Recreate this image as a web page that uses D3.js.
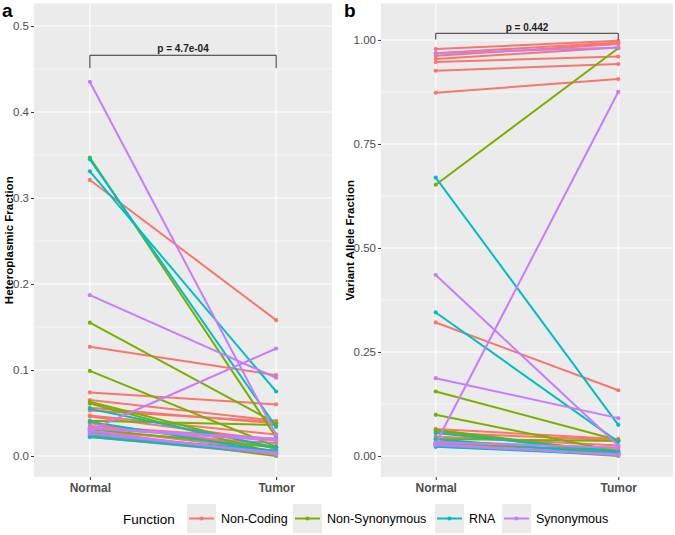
<!DOCTYPE html>
<html>
<head>
<meta charset="utf-8">
<script src="https://cdn.jsdelivr.net/npm/d3@7"></script>
<style>
  html, body { margin: 0; padding: 0; background: #ffffff; }
  svg { display: block; font-family: "Liberation Sans", Arial, sans-serif; }
</style>
</head>
<body>
<svg id="chart" width="675" height="535"></svg>
<script>
// ---------------- DATA ----------------
const functionNames = ["Non-Coding", "Non-Synonymous", "RNA", "Synonymous"];
const functionColors = ["#F8766D", "#7CAE00", "#00BFC4", "#C77CFF"];
const timepoints = ["Normal", "Tumor"];

// one entry per variant (same order in every array)
const variantFunction = [
  "Non-Coding","Non-Coding","Non-Coding","Non-Coding","Non-Coding","Non-Coding","Non-Coding","Non-Coding",
  "Non-Coding","Non-Coding","Non-Coding","Non-Coding","Non-Coding",
  "Non-Synonymous","Non-Synonymous","Non-Synonymous","Non-Synonymous","Non-Synonymous","Non-Synonymous",
  "Non-Synonymous","Non-Synonymous","Non-Synonymous",
  "RNA","RNA","RNA","RNA","RNA","RNA",
  "Synonymous","Synonymous","Synonymous","Synonymous","Synonymous","Synonymous","Synonymous"
];

// panel a: heteroplasmic fraction
const hetNormal = [
  0.321, 0.127, 0.074, 0.053, 0.046, 0.038, 0.032, 0.022,
  0.065, 0.047, 0.035, 0.028, 0.056,
  0.347, 0.155, 0.099, 0.063, 0.061, 0.041, 0.028, 0.023, 0.031,
  0.345, 0.331, 0.055, 0.022, 0.025, 0.040,
  0.435, 0.187, 0.030, 0.032, 0.033, 0.026, 0.029
];
const hetTumor = [
  0.158, 0.094, 0.060, 0.040, 0.018, 0.010, 0.006, 0.002,
  0.041, 0.025, 0.020, 0.015, 0.038,
  0.022, 0.038, 0.011, 0.008, 0.003, 0.036, 0.000, 0.005, 0.010,
  0.034, 0.075, 0.010, 0.003, 0.006, 0.005,
  0.025, 0.091, 0.125, 0.018, 0.020, 0.004, 0.002
];

// panel b: variant allele fraction
const vafNormal = [
  0.321, 0.873, 0.926, 0.947, 0.954, 0.962, 0.968, 0.978,
  0.065, 0.047, 0.035, 0.028, 0.056,
  0.652, 0.155, 0.099, 0.063, 0.061, 0.041, 0.028, 0.023, 0.031,
  0.345, 0.669, 0.055, 0.022, 0.025, 0.040,
  0.435, 0.187, 0.030, 0.968, 0.033, 0.026, 0.029
];
const vafTumor = [
  0.158, 0.906, 0.942, 0.960, 0.982, 0.990, 0.994, 0.998,
  0.041, 0.025, 0.020, 0.015, 0.038,
  0.980, 0.038, 0.011, 0.008, 0.003, 0.036, 0.000, 0.005, 0.010,
  0.034, 0.075, 0.010, 0.003, 0.006, 0.005,
  0.025, 0.091, 0.875, 0.982, 0.020, 0.004, 0.002
];

const ticksA = [0, 0.1, 0.2, 0.3, 0.4, 0.5];
const tickLabelsA = ["0.0", "0.1", "0.2", "0.3", "0.4", "0.5"];
const minorA = [0.05, 0.15, 0.25, 0.35, 0.45];
const ticksB = [0, 0.25, 0.5, 0.75, 1.0];
const tickLabelsB = ["0.00", "0.25", "0.50", "0.75", "1.00"];
const minorB = [0.125, 0.375, 0.625, 0.875];

const pLabelA = "p = 4.7e-04";
const pLabelB = "p = 0.442";

// ---------------- DRAW ----------------
const svg = d3.select("#chart");
const color = d3.scaleOrdinal().domain(functionNames).range(functionColors);

function panel(opts) {
  const { left, right, top, bottom, domain, ticks, labels, minor,
          normal, tumor, title, letter, letterX, titleX, pLabel, bracketY, bracketDrop, pY } = opts;
  const g = svg.append("g");
  const x = d3.scalePoint().domain(timepoints).range([left, right]).padding(0.3);
  const y = d3.scaleLinear().domain(domain).range([bottom, top]);

  g.append("rect").attr("x", left).attr("y", top)
    .attr("width", right - left).attr("height", bottom - top).attr("fill", "#EBEBEB");

  // grid
  g.selectAll(".minor").data(minor).enter().append("line")
    .attr("x1", left).attr("x2", right)
    .attr("y1", d => y(d)).attr("y2", d => y(d))
    .attr("stroke", "#ffffff").attr("stroke-width", 0.55);
  g.selectAll(".major").data(ticks).enter().append("line")
    .attr("x1", left).attr("x2", right)
    .attr("y1", d => y(d)).attr("y2", d => y(d))
    .attr("stroke", "#ffffff").attr("stroke-width", 1.1);
  g.selectAll(".vmajor").data(timepoints).enter().append("line")
    .attr("x1", d => x(d)).attr("x2", d => x(d))
    .attr("y1", top).attr("y2", bottom)
    .attr("stroke", "#ffffff").attr("stroke-width", 1.1);

  // axes
  const yAxis = d3.axisLeft(y).tickValues(ticks).tickFormat((d, i) => labels[i]).tickSize(3).tickPadding(2);
  const ya = g.append("g").attr("transform", `translate(${left},0)`).call(yAxis);
  ya.select(".domain").remove();
  ya.selectAll("line").attr("stroke", "#333333");
  ya.selectAll("text").attr("fill", "#4D4D4D").style("font-size", "11.5px")
    .style("font-family", "'Liberation Sans', Arial, sans-serif");

  const xAxis = d3.axisBottom(x).tickSize(3).tickPadding(3);
  const xa = g.append("g").attr("transform", `translate(0,${bottom})`).call(xAxis);
  xa.select(".domain").remove();
  xa.selectAll("line").attr("stroke", "#333333");
  xa.selectAll("text").attr("fill", "#4D4D4D").style("font-size", "12px").style("font-weight", "bold")
    .style("font-family", "'Liberation Sans', Arial, sans-serif");

  // lines
  const rows = normal.map((v, i) => ({ f: variantFunction[i], a: v, b: tumor[i] }));
  const lg = g.append("g");
  rows.forEach(r => {
    lg.append("line")
      .attr("x1", x("Normal")).attr("y1", y(r.a))
      .attr("x2", x("Tumor")).attr("y2", y(r.b))
      .attr("stroke", color(r.f)).attr("stroke-width", 2);
  });
  rows.forEach(r => {
    lg.append("circle").attr("cx", x("Normal")).attr("cy", y(r.a)).attr("r", 2.1).attr("fill", color(r.f));
    lg.append("circle").attr("cx", x("Tumor")).attr("cy", y(r.b)).attr("r", 2.1).attr("fill", color(r.f));
  });

  // bracket
  const by = y(bracketY), bd = y(bracketY - bracketDrop);
  g.append("path")
    .attr("d", `M${x("Normal")},${bd}V${by}H${x("Tumor")}V${bd}`)
    .attr("fill", "none").attr("stroke", "#333333").attr("stroke-width", 1);
  g.append("text").attr("x", (x("Normal") + x("Tumor")) / 2).attr("y", pY)
    .attr("text-anchor", "middle").style("font-size", "10px").style("font-weight", "bold")
    .attr("fill", "#222").text(pLabel);

  // titles
  g.append("text")
    .attr("transform", `translate(${titleX},${(top + bottom) / 2}) rotate(-90)`)
    .attr("text-anchor", "middle").style("font-size", "11.5px").style("font-weight", "bold")
    .attr("fill", "#000").text(title);
  g.append("text").attr("x", letterX).attr("y", 17)
    .style("font-size", "19px").style("font-weight", "bold").attr("fill", "#000").text(letter);
}

panel({
  left: 34, right: 332, top: 3.5, bottom: 477, domain: [-0.0244, 0.5262],
  ticks: ticksA, labels: tickLabelsA, minor: minorA,
  normal: hetNormal, tumor: hetTumor,
  title: "Heteroplasmic Fraction", titleX: 13, letter: "a", letterX: 2,
  pLabel: pLabelA, bracketY: 0.466, bracketDrop: 0.015, pY: 52
});

panel({
  left: 381, right: 673, top: 3.5, bottom: 477, domain: [-0.0505, 1.0876],
  ticks: ticksB, labels: tickLabelsB, minor: minorB,
  normal: vafNormal, tumor: vafTumor,
  title: "Variant Allele Fraction", titleX: 354, letter: "b", letterX: 344,
  pLabel: pLabelB, bracketY: 1.016, bracketDrop: 0.015, pY: 31
});

// ---------------- LEGEND ----------------
const leg = svg.append("g");
leg.append("text").attr("x", 123).attr("y", 524).style("font-size", "13.5px").attr("fill", "#000").text("Function");
const keyStarts = [187, 293, 435, 502];
functionNames.forEach((name, i) => {
  const kx = keyStarts[i];
  const gg = leg.append("g");
  gg.append("rect").attr("x", kx).attr("y", 504).attr("width", 29).attr("height", 29).attr("fill", "#EBEBEB");
  gg.append("line").attr("x1", kx + 2).attr("x2", kx + 27).attr("y1", 518.5).attr("y2", 518.5)
    .attr("stroke", color(name)).attr("stroke-width", 2);
  gg.append("circle").attr("cx", kx + 14.5).attr("cy", 518.5).attr("r", 2.1).attr("fill", color(name));
  gg.append("text").attr("x", kx + 34).attr("y", 523).style("font-size", "12.5px").attr("fill", "#000").text(name);
});
</script>
</body>
</html>
